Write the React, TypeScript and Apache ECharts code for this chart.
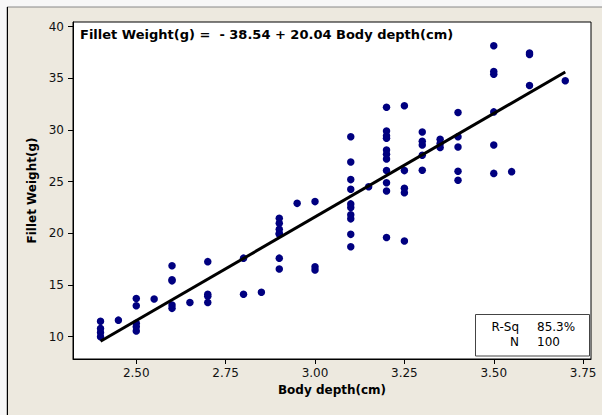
import React, { useEffect, useRef } from "react";
import * as echarts from "echarts";

const bodyDepth: number[] = [
  2.4, 2.4, 2.4, 2.4,
  2.45,
  2.5, 2.5, 2.5, 2.5, 2.5,
  2.55,
  2.6, 2.6, 2.6, 2.6, 2.6,
  2.65,
  2.7, 2.7, 2.7, 2.7,
  2.8, 2.8,
  2.85,
  2.9, 2.9, 2.9, 2.9, 2.9, 2.9, 2.9,
  2.95,
  3.0, 3.0, 3.0,
  3.1, 3.1, 3.1, 3.1, 3.1, 3.1, 3.1, 3.1, 3.1, 3.1,
  3.15,
  3.2, 3.2, 3.2, 3.2, 3.2, 3.2, 3.2, 3.2, 3.2, 3.2, 3.2,
  3.25, 3.25, 3.25, 3.25, 3.25,
  3.3, 3.3, 3.3, 3.3, 3.3,
  3.35, 3.35, 3.35,
  3.4, 3.4, 3.4, 3.4, 3.4,
  3.5, 3.5, 3.5, 3.5, 3.5, 3.5,
  3.55,
  3.6, 3.6, 3.6,
  3.7,
];

const filletWeight: number[] = [
  11.5, 10.8, 10.4, 10.0,
  11.6,
  13.7, 13.0, 11.3, 10.95, 10.55,
  13.65,
  16.87, 15.5, 15.4, 13.07, 12.74,
  13.3,
  17.26, 14.1, 13.9, 13.3,
  17.6, 14.1,
  14.3,
  21.46, 20.97, 20.4, 20.0, 19.9, 17.6, 16.55,
  22.9,
  23.07, 16.77, 16.45,
  29.35, 26.9, 25.2, 24.26, 22.85, 22.5, 21.8, 21.4, 19.9, 18.7,
  24.5,
  32.2, 29.9, 29.45, 29.2, 28.07, 27.65, 27.2, 26.07, 24.9, 24.1, 19.6,
  32.35, 26.07, 24.36, 23.93, 19.26,
  29.8, 28.9, 28.55, 27.55, 26.1,
  29.1, 28.7, 28.3,
  31.7, 29.35, 28.36, 26.0, 25.14,
  38.16, 35.65, 35.4, 31.75, 28.55, 25.8,
  25.97,
  37.45, 37.3, 34.3,
  34.77,
];

const fitX: number[] = [2.4, 3.7];
const fitY: number[] = [9.556, 35.608];

const xTicks: number[] = [2.5, 2.75, 3.0, 3.25, 3.5, 3.75];
const yTicks: number[] = [10, 15, 20, 25, 30, 35, 40];

const equationText = "Fillet Weight(g) =  - 38.54 + 20.04 Body depth(cm)";
const statLabels: string[] = ["R-Sq", "N"];
const statValues: string[] = ["85.3%", "100"];

const FONT = "DejaVu Sans";

export default function App() {
  const ref = useRef<HTMLDivElement>(null);

  useEffect(() => {
    document.body.style.margin = "0";
    const chart = echarts.init(ref.current!, null, { renderer: "svg" });
    const points = bodyDepth.map((x, i) => [x, filletWeight[i]]);
    const fitLine = fitX.map((x, i) => [x, fitY[i]]);

    chart.setOption({
      animation: false,
      backgroundColor: "#F7F7F7",
      grid: {
        left: 73,
        top: 22,
        right: 11,
        bottom: 56,
        show: true,
        backgroundColor: "#FFFFFF",
        borderColor: "#000000",
        borderWidth: 1,
      },
      xAxis: {
        type: "value",
        min: 2.323,
        max: 3.772,
        splitLine: { show: false },
        axisLine: { show: true, onZero: false, lineStyle: { color: "#000", width: 1 } },
        axisTick: {
          show: true,
          customValues: xTicks,
          length: 5,
          inside: false,
          lineStyle: { color: "#000" },
        },
        axisLabel: {
          customValues: xTicks,
          formatter: (v: number) => v.toFixed(2),
          fontFamily: FONT,
          fontSize: 12,
          color: "#111",
          margin: 8,
        },
        name: "Body depth(cm)",
        nameLocation: "middle",
        nameGap: 24,
        nameTextStyle: { fontFamily: FONT, fontSize: 12, fontWeight: "bold", color: "#000" },
      },
      yAxis: {
        type: "value",
        min: 7.84,
        max: 40.45,
        splitLine: { show: false },
        axisLine: { show: true, onZero: false, lineStyle: { color: "#000", width: 1 } },
        axisTick: {
          show: true,
          customValues: yTicks,
          length: 5,
          inside: false,
          lineStyle: { color: "#000" },
        },
        axisLabel: {
          customValues: yTicks,
          formatter: (v: number) => String(v),
          fontFamily: FONT,
          fontSize: 12,
          color: "#111",
          margin: 9,
        },
        name: "Fillet Weight(g)",
        nameLocation: "middle",
        nameRotate: 90,
        nameGap: 33,
        nameTextStyle: { fontFamily: FONT, fontSize: 12, fontWeight: "bold", color: "#000" },
      },
      series: [
        {
          type: "scatter",
          data: points,
          symbol: "circle",
          symbolSize: 7.5,
          itemStyle: { color: "#000080", opacity: 1 },
          z: 2,
        },
        {
          type: "line",
          data: fitLine,
          symbol: "none",
          lineStyle: { color: "#000000", width: 3 },
          z: 3,
        },
      ],
      graphic: [
        {
          type: "rect",
          z: -10,
          shape: { x: 7, y: 7, width: 620, height: 430 },
          style: { fill: "#EDE9DF", stroke: "#888", lineWidth: 1 },
        },
        {
          type: "line",
          z: -9,
          shape: { x1: 7.5, y1: 7, x2: 7.5, y2: 415 },
          style: { stroke: "#000", lineWidth: 1 },
        },
        {
          type: "text",
          left: 80,
          top: 28,
          style: {
            text: equationText,
            font: `bold 13px "${FONT}"`,
            fill: "#000",
          },
          z: 10,
        },
        {
          type: "rect",
          shape: { x: 475.5, y: 314.5, width: 114, height: 41.5 },
          style: { fill: "#FFFFFF", stroke: "#444", lineWidth: 1 },
          z: 10,
        },
        {
          type: "text",
          x: 519,
          y: 327,
          style: {
            text: statLabels[0],
            align: "right",
            verticalAlign: "middle",
            font: `12px "${FONT}"`,
            fill: "#000",
          },
          z: 11,
        },
        {
          type: "text",
          x: 519,
          y: 342,
          style: {
            text: statLabels[1],
            align: "right",
            verticalAlign: "middle",
            font: `12px "${FONT}"`,
            fill: "#000",
          },
          z: 11,
        },
        {
          type: "text",
          x: 537,
          y: 327,
          style: {
            text: statValues[0],
            align: "left",
            verticalAlign: "middle",
            font: `12px "${FONT}"`,
            fill: "#000",
          },
          z: 11,
        },
        {
          type: "text",
          x: 537,
          y: 342,
          style: {
            text: statValues[1],
            align: "left",
            verticalAlign: "middle",
            font: `12px "${FONT}"`,
            fill: "#000",
          },
          z: 11,
        },
      ],
    });

    return () => chart.dispose();
  }, []);

  return (
    <div
      ref={ref}
      style={{ position: "fixed", left: 0, top: 0, width: 602, height: 415 }}
    />
  );
}
